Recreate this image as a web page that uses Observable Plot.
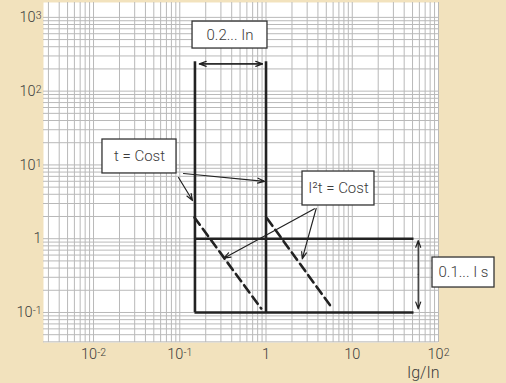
<!DOCTYPE html>
<html><head><meta charset="utf-8">
<script src="https://cdn.jsdelivr.net/npm/d3@7"></script>
<script src="https://cdn.jsdelivr.net/npm/@observablehq/plot@0.6"></script>
<style>
html,body{margin:0;padding:0;background:#f2e2bd;}
#chart{width:506px;height:383px;}
</style></head><body><div id="chart"></div>
<script>
// Axis ticks (log scales)
const xTicks = [0.01, 0.1, 1, 10, 100];
const yTicks = [0.1, 1, 10, 100, 1000];
const xTickLabels = ["10^-2", "10^-1", "1", "10", "10^2"];
const yTickLabels = ["10^-1", "1", "10^1", "10^2", "10^3"];
const xDomain = [0.00263, 100];
const yDomain = [0.0392, 1590];

// Threshold lines (Ig/In) and time limits (s)
const limitX = [0.15, 1];
const limitTop = 250;
const limitBottom = 0.1;
const timeY = [1, 0.1];
const timeEnd = 52;

// I²t = const dashed curves
const curveName = ["a", "a", "b", "b"];
const curveX = [0.148, 0.88, 1.03, 5.86];
const curveY = [1.94, 0.113, 1.88, 0.114];

// Label boxes
const boxText = ["0.2... In", "t = Cost", "I²t = Cost", "0.1... I s"];
const boxX1 = [0.1406, 0.0127, 2.65, 85.2];
const boxX2 = [1.04, 0.0917, 18.1, 446];
const boxY1 = [378, 7.66, 2.82, 0.218];
const boxY2 = [877, 22.1, 8.14, 0.556];

// Arrows
const arrX1 = [0.169, 0.911, 58.2, 58.2, 0.1105, 0.0967, 3.65, 3.82];
const arrY1 = [234, 234, 0.33, 0.33, 7.65, 6.75, 2.54, 2.57];
const arrX2 = [0.911, 0.169, 58.2, 58.2, 0.961, 0.1406, 0.324, 2.63];
const arrY2 = [234, 234, 0.945, 0.112, 6.0, 3.29, 0.544, 0.534];

const boxes = boxText.map((t, i) => ({t, x1: boxX1[i], x2: boxX2[i], y1: boxY1[i], y2: boxY2[i],
  cx: Math.sqrt(boxX1[i] * boxX2[i]), cy: Math.sqrt(boxY1[i] * boxY2[i])}));
const curves = curveX.map((x, i) => ({x, y: curveY[i], z: curveName[i]}));
const arrows = arrX1.map((x, i) => ({x1: x, y1: arrY1[i], x2: arrX2[i], y2: arrY2[i]}));

// log grid lines
const gridX = [], gridY = [];
for (let k = -3; k <= 3; k++) for (let m = 1; m <= 9; m++) {
  const v = m * Math.pow(10, k);
  if (v >= xDomain[0] && v <= xDomain[1] * 1.0001) gridX.push(v);
  if (v >= yDomain[0] && v <= yDomain[1]) gridY.push(v);
}

const ink = "#222";
const txt = "#3c3c3c";
const svg = Plot.plot({
  width: 506, height: 383,
  marginLeft: 43, marginRight: 68, marginTop: 2, marginBottom: 41,
  style: {background: "#f2e2bd", fontFamily: "Roboto, 'Liberation Sans', sans-serif", fontSize: "14.5px", fontWeight: 300},
  x: {type: "log", domain: xDomain},
  y: {type: "log", domain: yDomain},
  marks: [
    Plot.frame({fill: "white", stroke: null}),
    Plot.ruleX(gridX, {stroke: "#b9b9b9", strokeWidth: 1}),
    Plot.ruleY(gridY, {stroke: "#b9b9b9", strokeWidth: 1}),
    Plot.axisX({ticks: xTicks, tickSize: 0, tickPadding: 6, label: null, fill: txt,
      tickFormat: (d) => xTickLabels[xTicks.indexOf(d)]}),
    Plot.axisY({ticks: yTicks, tickSize: 0, tickPadding: 2, label: null, fill: txt,
      tickFormat: (d) => yTickLabels[yTicks.indexOf(d)]}),
    Plot.ruleX(limitX, {y1: limitBottom, y2: limitTop, stroke: ink, strokeWidth: 2.6}),
    Plot.ruleY(timeY, {x1: limitX[0], x2: timeEnd, stroke: ink, strokeWidth: 2.6}),
    Plot.line(curves, {x: "x", y: "y", z: "z", stroke: ink, strokeWidth: 2.6, strokeDasharray: "9,5"}),
    Plot.arrow(arrows, {x1: "x1", y1: "y1", x2: "x2", y2: "y2", stroke: ink, strokeWidth: 1.2, headLength: 9, headAngle: 40}),
    Plot.rect(boxes, {x1: "x1", x2: "x2", y1: "y1", y2: "y2", fill: "white", stroke: "#333", strokeWidth: 1.3}),
    Plot.text(boxes, {x: "cx", y: "cy", text: "t", fontSize: 15, fill: txt, fontWeight: 300}),
    Plot.text(["Ig/In"], {frameAnchor: "bottom-right", textAnchor: "end", lineAnchor: "top", dy: 24, dx: 1, fontSize: 16, fill: txt, fontWeight: 300})
  ]
});

// superscripts in tick labels
svg.querySelectorAll("text").forEach((t) => {
  const m = t.textContent.match(/^10\^(-?\d)$/);
  if (!m) return;
  t.textContent = "";
  const ns = "http://www.w3.org/2000/svg";
  const a = document.createElementNS(ns, "tspan");
  a.textContent = "10";
  const b = document.createElementNS(ns, "tspan");
  b.textContent = m[1];
  b.setAttribute("font-size", "10.5px");
  b.setAttribute("dy", "-3");
  t.appendChild(a); t.appendChild(b);
});
document.getElementById("chart").appendChild(svg);
</script></body></html>
